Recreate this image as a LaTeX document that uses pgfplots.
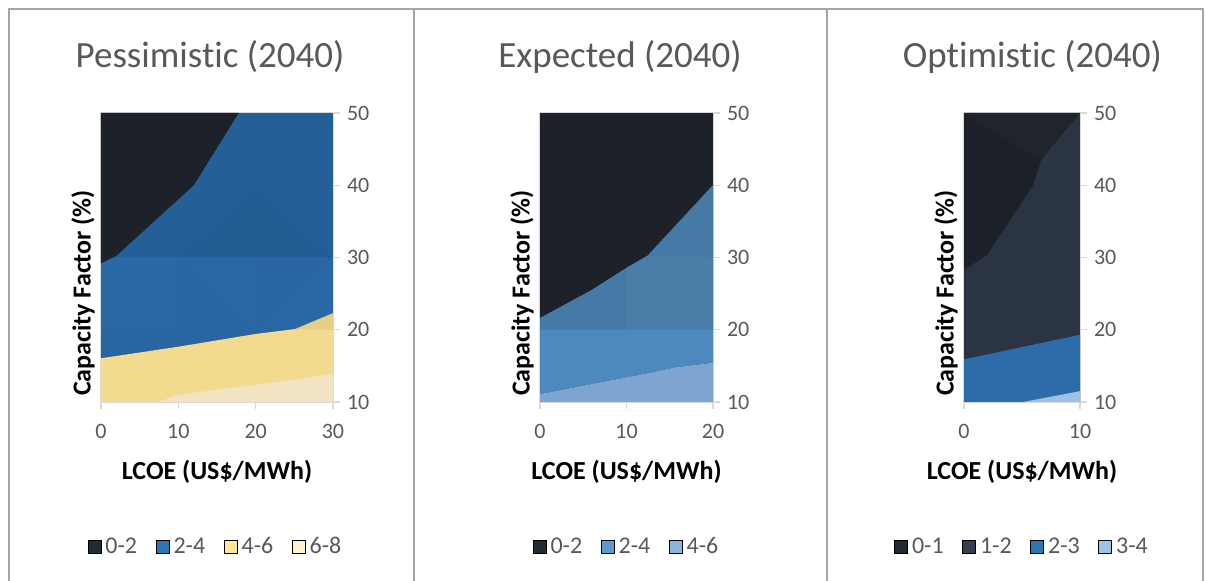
\documentclass[border=0pt]{standalone}
\usepackage{fontspec}
\setmainfont{Carlito}[Ligatures={NoCommon}]
\usepackage{pgfplots}
\pgfplotsset{compat=1.18}

% band colours as rendered in the plot area
\definecolor{darkband}{HTML}{1D2129}
\definecolor{pBlue}{HTML}{2968A5}
\definecolor{pYellow}{HTML}{F2DB8E}
\definecolor{pCream}{HTML}{F2E4C3}
\definecolor{eDark}{HTML}{1D222A}
\definecolor{eMidUp}{HTML}{4579A6}
\definecolor{eMid}{HTML}{4D89BE}
\definecolor{eLight}{HTML}{7EA5D1}
\definecolor{oDark}{HTML}{1C2028}
\definecolor{oSlate}{HTML}{2B3443}
\definecolor{oBlue}{HTML}{2C6DA9}
\definecolor{oLight}{HTML}{A1C1E2}
% legend swatch colours
\definecolor{lgDark}{HTML}{222A35}
\definecolor{lgBlue}{HTML}{2E75B6}
\definecolor{lgYellow}{HTML}{FFE699}
\definecolor{lgCream}{HTML}{FFF2CC}
\definecolor{lgMid}{HTML}{5B9BD5}
\definecolor{lgLight}{HTML}{8DB3E2}
\definecolor{lgSlate}{HTML}{333F50}
\definecolor{lgPale}{HTML}{9DC3E6}
% chart furniture
\definecolor{axisgray}{HTML}{D9D9D9}
\definecolor{textgray}{HTML}{595959}
\definecolor{framegray}{HTML}{A6A6A6}

\pgfplotsset{
  contour panel/.style={
    scale only axis,
    height=144.5pt,
    ymin=10, ymax=50,
    ytick={10,20,30,40,50},
    axis line style={draw=axisgray, line width=0.6pt},
    tick style={draw=axisgray, line width=0.6pt},
    tick align=outside,
    major tick length=3.5pt,
    xtick pos=bottom,
    ytick pos=right,
    yticklabel pos=right,
    /pgf/number format/assume math mode=true,
    ticklabel style={font=\fontsize{11}{13}\selectfont, text=textgray},
    xticklabel style={yshift=-4pt},
    title style={font=\fontsize{18.5}{22}\selectfont, text=textgray, anchor=center},
    xlabel={LCOE (US\$/MWh)},
    ylabel={Capacity Factor (\%)},
    xlabel style={font=\bfseries\fontsize{13}{15}\selectfont,
      at={(axis description cs:0.5,-0.241)}, anchor=center},
    every axis y label/.style={font=\bfseries\fontsize{13}{15}\selectfont,
      at={(axis description cs:0,0.377)}, xshift=-9pt, rotate=90, anchor=center},
    legend columns=-1,
    legend image code/.code={\fill[##1] (0pt,-3.25pt) rectangle (6.5pt,3.25pt);},
    legend style={draw=none, fill=none, anchor=center,
      font=\fontsize{12}{14}\selectfont, text=textgray,
      /tikz/every even column/.append style={column sep=7.3pt}},
  },
  band/.style={draw=none, fill=#1, forget plot},
}

\begin{document}
\begin{tikzpicture}
\useasboundingbox (0pt,0pt) rectangle (602.5pt,290.5pt);

% panel frames
\draw[framegray, line width=1pt] (4.5pt,0pt) -- (4.5pt,285.75pt) -- (601.5pt,285.75pt) -- (601.5pt,0pt);
\draw[framegray, line width=1pt] (207pt,0pt) -- (207pt,285.75pt);
\draw[framegray, line width=1pt] (413.25pt,0pt) -- (413.25pt,285.75pt);

% ---------------- Pessimistic ----------------
\begin{axis}[contour panel, at={(50.5pt,89.5pt)}, anchor=south west,
  width=116pt, xmin=0, xmax=30, xtick={0,10,20,30},
  title={Pessimistic (2040)}, title style={at={(axis description cs:0.47,1.154)}},
  legend style={at={(0.498,-0.502)}}]
  % 2-4 band as base
  \addplot[band=pBlue] coordinates {(0,10) (30,10) (30,50) (0,50)} -- cycle;
  % surface shading facets
  \addplot[band=black, fill opacity=0.08] coordinates {(0,30) (30,30) (30,50) (0,50)} -- cycle;
  \addplot[band=black, fill opacity=0.025] coordinates {(10,30) (20,40) (20,30)} -- cycle;
  \addplot[band=black, fill opacity=0.025] coordinates {(20,40) (20,30) (30,30)} -- cycle;
  \addplot[band=black, fill opacity=0.025] coordinates {(10,30) (10,20) (20,20)} -- cycle;
  \addplot[band=black, fill opacity=0.025] coordinates {(20,30) (30,30) (20,20)} -- cycle;
  \addplot[band=black, fill opacity=0.02] coordinates {(0,10) (30,10) (30,20) (0,20)} -- cycle;
  % 0-2 band
  \addplot[band=darkband] coordinates {(0,50) (0,29.2) (2,30.25) (12,40) (17.8,50)} -- cycle;
  % 4-6 band
  \addplot[band=pYellow] coordinates {(0,10) (0,16.05) (10,17.65) (19.9,19.4) (25.1,20.1) (30,22.3) (30,10)} -- cycle;
  \addplot[band=black, fill opacity=0.05] coordinates {(24.4,20) (25.1,20.1) (30,22.3) (30,20)} -- cycle;
  % 6-8 band
  \addplot[band=pCream] coordinates {(7.4,10) (10,11) (19.9,12.35) (30,13.9) (30,10)} -- cycle;
  \addlegendimage{fill=lgDark}\addlegendentry{0-2}
  \addlegendimage{fill=lgBlue}\addlegendentry{2-4}
  \addlegendimage{fill=lgYellow}\addlegendentry{4-6}
  \addlegendimage{fill=lgCream}\addlegendentry{6-8}
\end{axis}

% ---------------- Expected ----------------
\begin{axis}[contour panel, at={(270pt,89.5pt)}, anchor=south west,
  width=86.5pt, xmin=0, xmax=20, xtick={0,10,20},
  title={Expected (2040)}, title style={at={(axis description cs:0.462,1.154)}},
  legend style={at={(0.506,-0.502)}}]
  % 0-2 band as base
  \addplot[band=eDark] coordinates {(0,10) (20,10) (20,50) (0,50)} -- cycle;
  % 2-4 band
  \addplot[band=eMid] coordinates {(0,11.1) (0,21.6) (6,25.5) (10.2,28.7) (12.45,30.25) (20,40) (20,15.45) (15.6,14.8) (12.5,14.0) (6,12.5)} -- cycle;
  \addplot[band=eMidUp] coordinates {(0,20) (0,21.6) (6,25.5) (10.2,28.7) (12.45,30.25) (20,40) (20,20)} -- cycle;
  \addplot[band=white, fill opacity=0.03] coordinates {(10,20) (10,28.55) (10.2,28.7) (12.45,30.25) (20,30) (20,20)} -- cycle;
  % 4-6 band
  \addplot[band=eLight] coordinates {(0,10) (0,11.1) (6,12.5) (12.5,14.0) (15.6,14.8) (20,15.45) (20,10)} -- cycle;
  \addlegendimage{fill=lgDark}\addlegendentry{0-2}
  \addlegendimage{fill=lgMid}\addlegendentry{2-4}
  \addlegendimage{fill=lgLight}\addlegendentry{4-6}
\end{axis}

% ---------------- Optimistic ----------------
\begin{axis}[contour panel, at={(482pt,89.5pt)}, anchor=south west,
  width=58pt, xmin=0, xmax=10, xtick={0,10},
  title={Optimistic (2040)}, title style={at={(axis description cs:0.59,1.154)}},
  legend style={at={(0.509,-0.502)}}]
  % 1-2 band as base
  \addplot[band=oSlate] coordinates {(0,10) (10,10) (10,50) (0,50)} -- cycle;
  % 0-1 band
  \addplot[band=oDark] coordinates {(0,50) (0,28.3) (1.92,30.25) (5.95,40) (6.67,43.5) (10,50)} -- cycle;
  \addplot[band=white, fill opacity=0.02] coordinates {(0,50) (6.9,43.1) (10,50)} -- cycle;
  % 2-3 band
  \addplot[band=oBlue] coordinates {(0,10) (0,15.9) (10,19.3) (10,10)} -- cycle;
  % 3-4 band
  \addplot[band=oLight] coordinates {(5.1,10) (10,11.5) (10,10)} -- cycle;
  \addlegendimage{fill=lgDark}\addlegendentry{0-1}
  \addlegendimage{fill=lgSlate}\addlegendentry{1-2}
  \addlegendimage{fill=lgBlue}\addlegendentry{2-3}
  \addlegendimage{fill=lgPale}\addlegendentry{3-4}
\end{axis}
\end{tikzpicture}
\end{document}
